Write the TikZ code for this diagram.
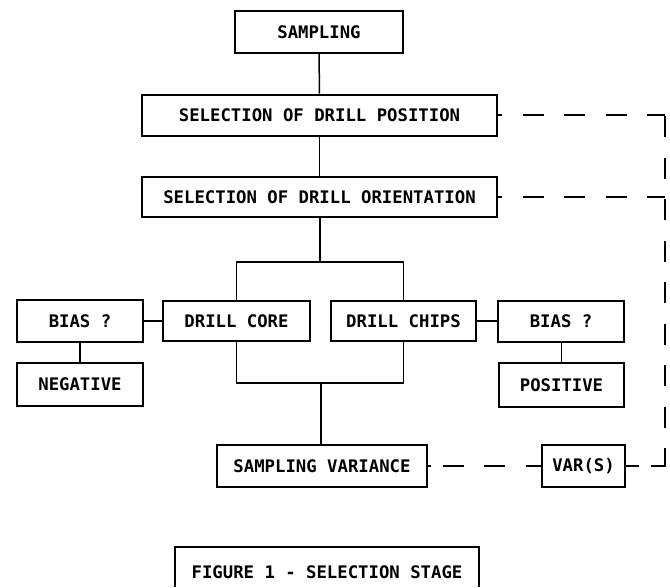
\documentclass[tikz,border=0pt]{standalone}
\usepackage{fontspec}
\newfontfamily\plotfont{DejaVu Sans Mono}
\begin{document}
\begin{tikzpicture}[x=1pt,y=-1pt,
  box/.style={draw, line width=2pt, inner sep=0pt, font=\plotfont\bfseries\fontsize{17.3}{20}\selectfont},
  link/.style={line width=1.5pt},
  thicklink/.style={line width=2.6pt},
  dline/.style={line width=2.6pt, dash pattern=on 21pt off 20.5pt}]
\useasboundingbox (0,0) rectangle (670,587);
\node[box, minimum width=168pt, minimum height=42pt] (samp) at (319,32) {SAMPLING};
\node[box, minimum width=355pt, minimum height=41pt] (pos) at (319.5,115) {SELECTION OF DRILL POSITION};
\node[box, minimum width=355pt, minimum height=40pt] (ori) at (319.5,197) {SELECTION OF DRILL ORIENTATION};
\node[box, minimum width=126pt, minimum height=42pt] (biasl) at (80,321) {BIAS ?};
\node[box, minimum width=147pt, minimum height=40pt] (core) at (236.5,321) {DRILL CORE};
\node[box, minimum width=145pt, minimum height=40pt] (chips) at (403.5,321) {DRILL CHIPS};
\node[box, minimum width=126pt, minimum height=41pt] (biasr) at (561,321) {BIAS ?};
\node[box, minimum width=126pt, minimum height=43pt] (neg) at (80,384) {NEGATIVE};
\node[box, minimum width=125pt, minimum height=44pt] (posv) at (561.5,385) {POSITIVE};
\node[box, minimum width=210pt, minimum height=42pt] (sv) at (322,466) {SAMPLING VARIANCE};
\node[box, minimum width=83pt, minimum height=42pt] (var) at (583.5,466) {VAR(S)};
\node[box, draw=none] (fig) at (327,572) {FIGURE 1 - SELECTION STAGE};
\draw[line width=2pt] (175,587) |- (479,547) -- (479,587);
\coordinate (f1) at (320,262);
\coordinate (f2) at (321,383);
\coordinate (ct) at (665,115);
\coordinate (cb) at (665,466);
\draw[link] (samp) -- (pos);
\draw[link] (pos) -- (ori);
\draw[link] (ori.south -| f1) -- (f1);
\draw[link] (core.north) |- (f1) -| (chips.north);
\draw[link] (core.south) |- (f2) -| (chips.south);
\draw[link] (f2) -- (sv.north -| f2);
\draw[thicklink] (biasl) -- (core);
\draw[thicklink] (chips) -- (biasr);
\draw[link] (biasl) -- (neg);
\draw[link] (biasr.south -| posv) -- (posv);
\draw[dline, dash phase=17pt] (pos.east) -- (ct);
\draw[dline] ([yshift=-1.3pt]ct) -- (cb);
\draw[line width=2.6pt, dash pattern=on 13pt off 12pt on 30pt] (var.east) -- ([xshift=1.3pt]cb);
\draw[dline, dash phase=17pt] (ori.east) -- (ori.east -| ct);
\draw[line width=2.6pt, dash pattern=on 3pt off 12pt on 21pt off 20pt on 21pt off 21pt on 30pt] (sv.east) -- (var.west);
\end{tikzpicture}
\end{document}
